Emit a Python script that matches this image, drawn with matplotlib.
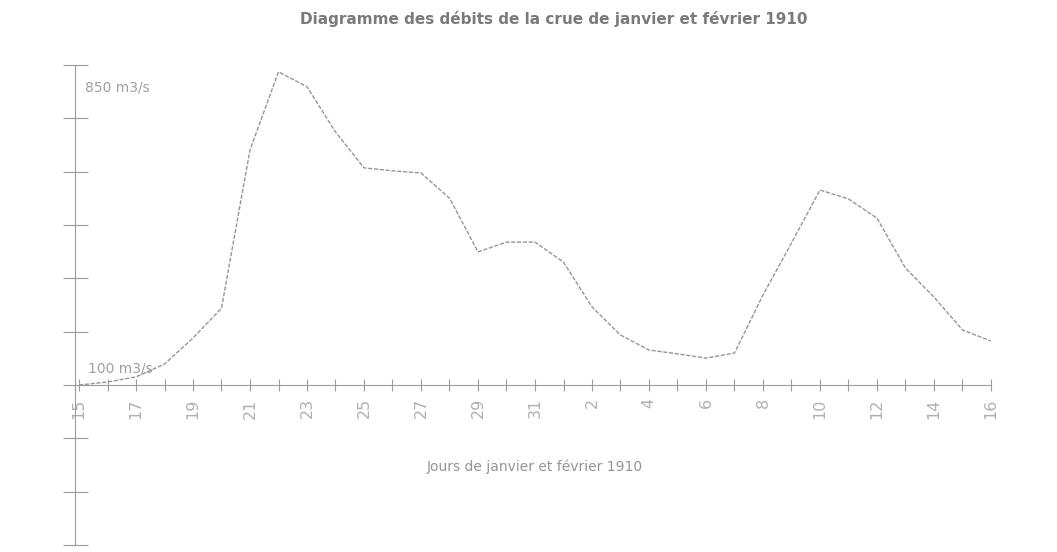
import numpy as np
import matplotlib
matplotlib.use('Agg')
import matplotlib.pyplot as plt

# Jours du 15 janvier au 16 fevrier 1910
jours = list(range(15, 32)) + list(range(1, 17))
debits = [100, 107, 119, 149, 210, 280, 651, 834, 799, 693, 609, 602, 597,
          538, 412, 435, 435, 388, 283, 217, 182, 173, 163, 175, 311, 433,
          557, 536, 491, 374, 306, 229, 203]

x = np.arange(len(jours))
tick_labels = [str(j) if i % 2 == 0 else '' for i, j in enumerate(jours)]

fig = plt.figure(figsize=(10.57, 5.52), dpi=100)
ax = fig.add_axes([0, 0, 1, 1])

# pixel mapping: day index 0 -> 79 px, 32 -> 991 px ; 100 m3/s -> 385 px, 850 -> 65 px
step = (991 - 79) / 32
ax.set_xlim(-79 / step, (1057 - 79) / step)
k = 750 / 320
ax.set_ylim(100 - (552 - 385) * k, 100 + 385 * k)

grey = '#9c9c9c'
ax.plot(x, debits, color='#969696', lw=1.0, ls=(0, (3, 1.2)))

for s in ['top', 'right']:
    ax.spines[s].set_visible(False)
ax.spines['bottom'].set_position(('data', 100))
ax.spines['left'].set_position(('data', -4 / step))
ax.spines['bottom'].set_bounds(-4 / step, 32)
ax.spines['left'].set_bounds(-275, 850)
ax.spines['bottom'].set_color(grey)
ax.spines['left'].set_color(grey)

ax.set_xticks(x)
ax.set_xticklabels(tick_labels, rotation=90, fontsize=11.5, color='#b0b0b0')
ax.tick_params(axis='x', direction='inout', length=9, width=0.8, color=grey, pad=5)
ax.set_yticks(np.arange(-275, 851, 125))
ax.set_yticklabels([])
ax.tick_params(axis='y', direction='inout', length=18, width=0.8, color=grey)

ax.text(6 / step, 100 + (385 - 87) * k, '850 m3/s', fontsize=10, color='#a0a0a0',
        ha='left', va='center')
ax.text(9 / step, 100 + (385 - 368) * k, '100 m3/s', fontsize=10, color='#a0a0a0',
        ha='left', va='center')

fig.text(554 / 1057, 1 - 19 / 552, 'Diagramme des débits de la crue de janvier et février 1910',
         ha='center', va='center', fontsize=11, fontweight='bold', color='#7a7a7a')
fig.text(535 / 1057, 1 - 467 / 552, 'Jours de janvier et février 1910',
         ha='center', va='center', fontsize=10, color='#959595')

fig.savefig('out.png', dpi=100, facecolor='white')
